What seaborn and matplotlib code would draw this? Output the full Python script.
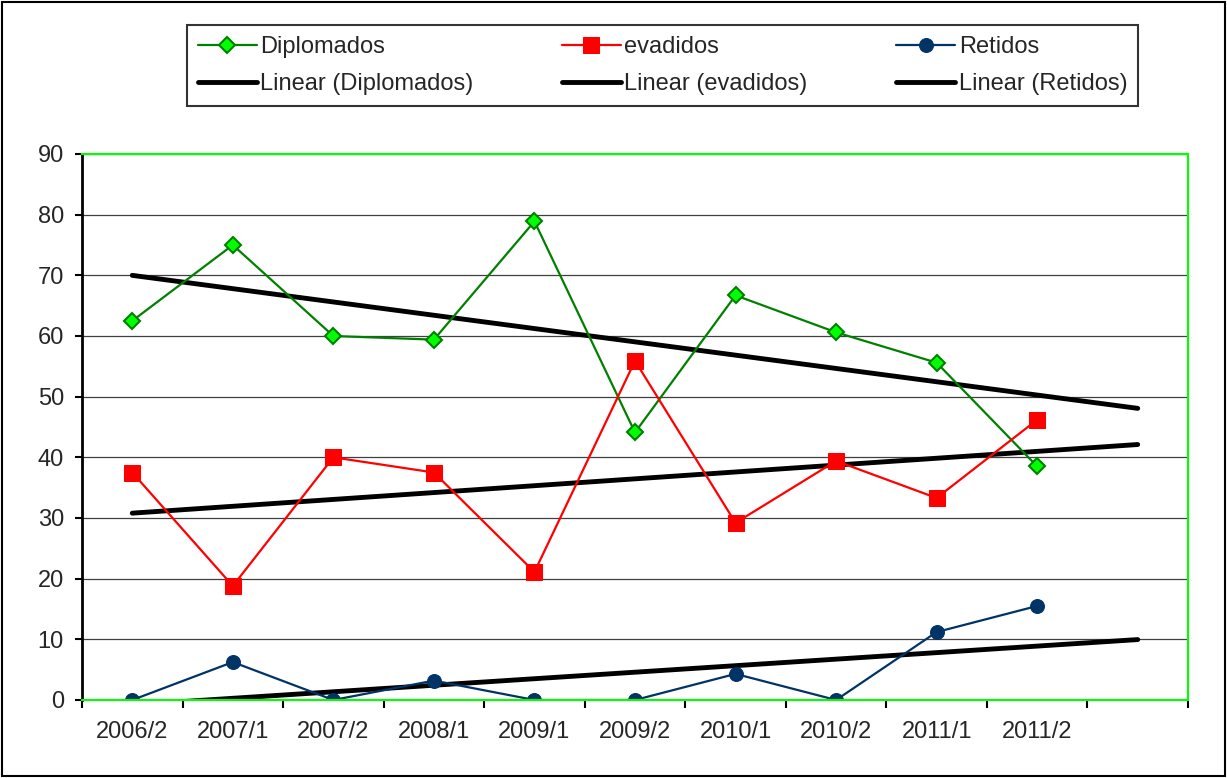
import numpy as np
import pandas as pd
import matplotlib
matplotlib.use('Agg')
import matplotlib.pyplot as plt
import seaborn as sns

# Values
semesters = ['2006/2', '2007/1', '2007/2', '2008/1', '2009/1',
             '2009/2', '2010/1', '2010/2', '2011/1', '2011/2']
diplomados = [62.5, 75.0, 60.0, 59.4, 78.9, 44.1, 66.7, 60.6, 55.6, 38.5]
evadidos = [37.5, 18.8, 40.0, 37.5, 21.1, 55.9, 29.2, 39.4, 33.3, 46.2]
retidos = [0.0, 6.25, 0.0, 3.2, 0.0, 0.0, 4.3, 0.0, 11.2, 15.5]

sns.set_style('white')
plt.rcParams['font.family'] = ['Liberation Sans', 'DejaVu Sans']

fig = plt.figure(figsize=(12.27, 7.78), dpi=100)
ax = fig.add_axes([82 / 1227, 1 - 700 / 778, (1188 - 82) / 1227, (700 - 154) / 778])

x = np.arange(len(semesters))
df = pd.DataFrame({'x': x, 'Diplomados': diplomados,
                   'evadidos': evadidos, 'Retidos': retidos})

styles = {
    'Diplomados': dict(color='#008000', marker='D', markersize=8,
                       markerfacecolor='#00FF00', markeredgecolor='#008000',
                       markeredgewidth=1.5),
    'evadidos': dict(color='#FF0000', marker='s', markersize=11,
                     markerfacecolor='#FF0000', markeredgecolor='#FF0000'),
    'Retidos': dict(color='#003366', marker='o', markersize=10,
                    markerfacecolor='#003366', markeredgecolor='#003366'),
}

handles = []
xt = np.arange(len(semesters) + 1)  # trend forecast one period forward
for name, st in styles.items():
    sns.lineplot(data=df, x='x', y=name, ax=ax, linewidth=1.6, label=name, **st)
    h_series = ax.get_lines()[-1]
    b, a = np.polyfit(x, df[name], 1)
    trend = pd.DataFrame({'x': xt, 'y': a + b * xt})
    sns.lineplot(data=trend, x='x', y='y', ax=ax, color='black', linewidth=3.5,
                 label='Linear (%s)' % name, zorder=1)
    h_trend = ax.get_lines()[-1]
    handles += [h_series, h_trend]

if ax.get_legend():
    ax.get_legend().remove()

ax.set_xlim(-0.5, len(semesters) + 0.5)
ax.set_ylim(0, 90)
ax.set_yticks(range(0, 91, 10))
ax.set_xticks(x)
ax.set_xticklabels(semesters)
ax.set_xticks(np.arange(-0.5, len(semesters) + 1), minor=True)
ax.set_xlabel('')
ax.set_ylabel('')
ax.yaxis.grid(True, color='#404040', linewidth=0.9)
ax.set_axisbelow(True)

ax.tick_params(axis='x', which='major', length=0, labelsize=17, pad=15)
ax.tick_params(axis='x', which='minor', length=6, width=1.5, color='black',
               direction='out', bottom=True)
ax.tick_params(axis='y', length=5, width=1.5, color='black', direction='out',
               left=True, labelsize=17, pad=8)

for side in ['top', 'right', 'bottom']:
    ax.spines[side].set_color('#00FF00')
    ax.spines[side].set_linewidth(1.5)
ax.spines['left'].set_color('black')
ax.spines['left'].set_linewidth(2)
ax.axhline(0, color='black', linewidth=1.2, zorder=0.5)

leg = fig.legend(handles=handles,
                 labels=[h.get_label() for h in handles],
                 ncol=3, loc='center', mode='expand',
                 bbox_to_anchor=(187 / 1227, 1 - 106 / 778, 951 / 1227, 81 / 778),
                 fontsize=17, frameon=True, fancybox=False, edgecolor='black',
                 handlelength=2.5, handletextpad=0.15, columnspacing=2.0,
                 labelspacing=0.65, borderpad=0.45, borderaxespad=0)
leg.get_frame().set_linewidth(1.5)

# outer chart border
fig.patches.append(plt.Rectangle((0.002, 0.002), 0.996, 0.996, transform=fig.transFigure,
                                 fill=False, edgecolor='black', linewidth=1.5))

fig.savefig('out.png', dpi=100)
